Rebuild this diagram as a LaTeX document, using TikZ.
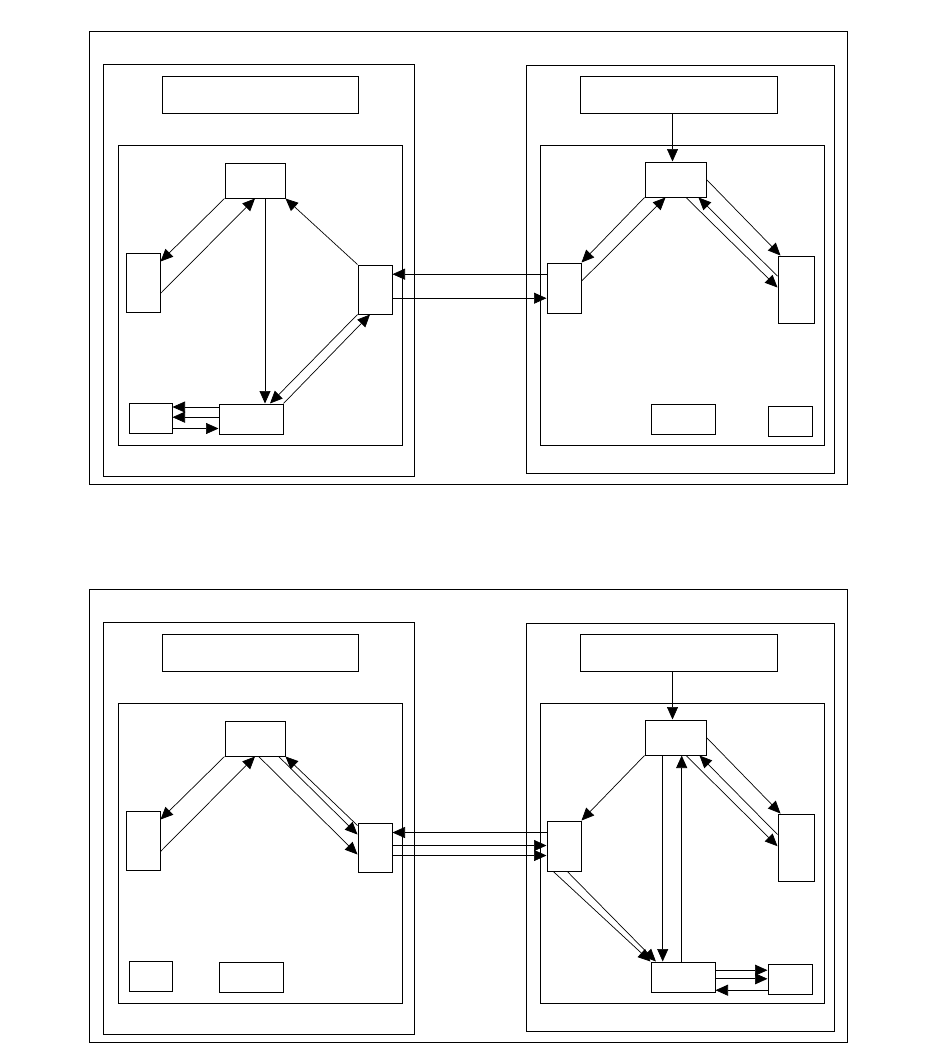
\documentclass[tikz,border=0pt]{standalone}
\usetikzlibrary{positioning, arrows.meta, calc}

\begin{document}
\begin{tikzpicture}[x=1pt, y=-1pt,
    frame/.style={draw, line width=1pt},
    box/.style={draw, line width=1pt, inner sep=0pt, fill=white},
    link/.style={-{Triangle[length=12.5pt,width=11pt]}, line width=0.7pt}]
  \useasboundingbox (0,0) rectangle (937,1044);

  % upper panel
  \draw[frame] (89,31) rectangle (847,484);
  \draw[frame] (103,64) rectangle (414,476);
  \draw[frame] (118,145) rectangle (402,445);
  \draw[frame] (526,65) rectangle (834,473);
  \draw[frame] (540,145) rectangle (824,445);
  \node[box, minimum width=196pt, minimum height=37pt] (uTitleL) at (260,94.5) {};
  \node[box, minimum width=197pt, minimum height=37pt] (uTitleR) at (678.5,94.5) {};
  \node[box, minimum width=60pt, minimum height=35pt] (uCore) at (255,180.5) {};
  \node[box, minimum width=34pt, minimum height=59pt] (uSide) at (143,282.5) {};
  \node[box, minimum width=34pt, minimum height=49pt] (uLink) at (375,289.5) {};
  \node[box, minimum width=64pt, minimum height=30pt] (uBase) at (251,419) {};
  \node[box, minimum width=43pt, minimum height=30pt] (uAux) at (150.5,418) {};
  \node[box, minimum width=61pt, minimum height=35pt] (uHead) at (675.5,179.5) {};
  \node[box, minimum width=34pt, minimum height=50pt] (uGate) at (564,288) {};
  \node[box, minimum width=36pt, minimum height=67pt] (uPeer) at (796,289.5) {};
  \node[box, minimum width=64pt, minimum height=30pt] (uSink) at (683,419) {};
  \node[box, minimum width=44pt, minimum height=30pt] (uTail) at (790,421) {};

  \draw[link] (uCore.south west) -- ($(uSide.north east)+(0,9)$);
  \draw[link] ($(uSide.north east)+(0,41)$) -- (uCore.south);
  \draw[link] ($(uCore.south)+(10,0)$) -- ($(uBase.north)+(14,0)$);
  \draw[link] (uLink.north west) -- (uCore.south east);
  \draw[link] (uLink.south west) -- ($(uBase.north)+(19,0)$);
  \draw[link] (uBase.north east) -- ($(uLink.south)+(-5,0)$);
  \draw[link] ($(uBase.north west)+(0,3.5)$) coordinate (p) -- (p -| uAux.east);
  \draw[link] ($(uBase.north west)+(0,13.7)$) coordinate (p) -- (p -| uAux.east);
  \draw[link] ($(uAux.north east)+(0,26)$) coordinate (p) -- (p -| uBase.west);
  \draw[link] ($(uGate.north west)+(0,11.7)$) coordinate (p) -- (p -| uLink.east);
  \draw[link] ($(uLink.north east)+(0,33.7)$) coordinate (p) -- (p -| uGate.west);
  \coordinate (uIn) at ($(uHead.north)+(-3,0)$);
  \draw[link] (uTitleR.south -| uIn) -- (uIn);
  \draw[link] (uHead.south west) -- (uGate.north east);
  \draw[link] ($(uGate.north east)+(0,18.7)$) -- ($(uHead.south)+(-10,0)$);
  \draw[link] (uHead.east) -- ($(uPeer.north west)+(3,0)$);
  \draw[link] ($(uHead.south)+(10.5,0)$) -- ($(uPeer.north west)+(0,32)$);
  \draw[link] ($(uPeer.north west)+(0,20.7)$) -- ($(uHead.south)+(23,0)$);

  % lower panel
  \begin{scope}[yshift=-558pt]
    \draw[frame] (89,31) rectangle (847,484);
    \draw[frame] (103,64) rectangle (414,476);
    \draw[frame] (118,145) rectangle (402,445);
    \draw[frame] (526,65) rectangle (834,473);
    \draw[frame] (540,145) rectangle (824,445);
    \node[box, minimum width=196pt, minimum height=37pt] (lTitleL) at (260,94.5) {};
    \node[box, minimum width=197pt, minimum height=37pt] (lTitleR) at (678.5,94.5) {};
    \node[box, minimum width=60pt, minimum height=35pt] (lCore) at (255,180.5) {};
    \node[box, minimum width=34pt, minimum height=59pt] (lSide) at (143,282.5) {};
    \node[box, minimum width=34pt, minimum height=49pt] (lLink) at (375,289.5) {};
    \node[box, minimum width=64pt, minimum height=30pt] (lBase) at (251,419) {};
    \node[box, minimum width=43pt, minimum height=30pt] (lAux) at (150.5,418) {};
    \node[box, minimum width=61pt, minimum height=35pt] (lHead) at (675.5,179.5) {};
    \node[box, minimum width=34pt, minimum height=50pt] (lGate) at (564,288) {};
    \node[box, minimum width=36pt, minimum height=67pt] (lPeer) at (796,289.5) {};
    \node[box, minimum width=64pt, minimum height=30pt] (lSink) at (683,419) {};
    \node[box, minimum width=44pt, minimum height=30pt] (lTail) at (790,421) {};

    \draw[link] (lCore.south west) -- ($(lSide.north east)+(0,9)$);
    \draw[link] ($(lSide.north east)+(0,41)$) -- (lCore.south);
    \draw[link] ($(lCore.south)+(3.7,0)$) -- ($(lLink.north west)+(0,32)$);
    \draw[link] ($(lCore.south)+(23.7,0)$) -- ($(lLink.north west)+(0,12)$);
    \draw[link] ($(lLink.north west)+(0,3)$) -- (lCore.south east);
    \draw[link] ($(lGate.north west)+(0,12)$) coordinate (p) -- (p -| lLink.east);
    \draw[link] ($(lLink.north east)+(0,23)$) coordinate (p) -- (p -| lGate.west);
    \draw[link] ($(lLink.north east)+(0,33)$) coordinate (p) -- (p -| lGate.west);
    \coordinate (lIn) at ($(lHead.north)+(-3,0)$);
    \draw[link] (lTitleR.south -| lIn) -- (lIn);
    \draw[link] (lHead.south west) -- (lGate.north east);
    \draw[link] (lHead.east) -- ($(lPeer.north west)+(3,0)$);
    \draw[link] ($(lHead.south)+(10.5,0)$) -- ($(lPeer.north west)+(0,32.7)$);
    \draw[link] ($(lPeer.north west)+(0,21)$) -- ($(lHead.south)+(24,0)$);
    \draw[link] ($(lHead.south)+(-12.8,0)$) coordinate (p) -- (p |- lSink.north);
    \draw[link] ($(lSink.north)+(-1.3,0)$) coordinate (p) -- (p |- lHead.south);
    \draw[link] ($(lGate.south)+(-10.7,0)$) -- (lSink.north west);
    \draw[link] ($(lGate.south)+(3.3,0)$) -- ($(lSink.north west)+(5.4,0)$);
    \draw[link] ($(lSink.north east)+(0,8.7)$) coordinate (p) -- (p -| lTail.west);
    \draw[link] ($(lSink.north east)+(0,17.3)$) coordinate (p) -- (p -| lTail.west);
    \draw[link] ($(lTail.north west)+(0,26.7)$) coordinate (p) -- (p -| lSink.east);
  \end{scope}
\end{tikzpicture}
\end{document}
